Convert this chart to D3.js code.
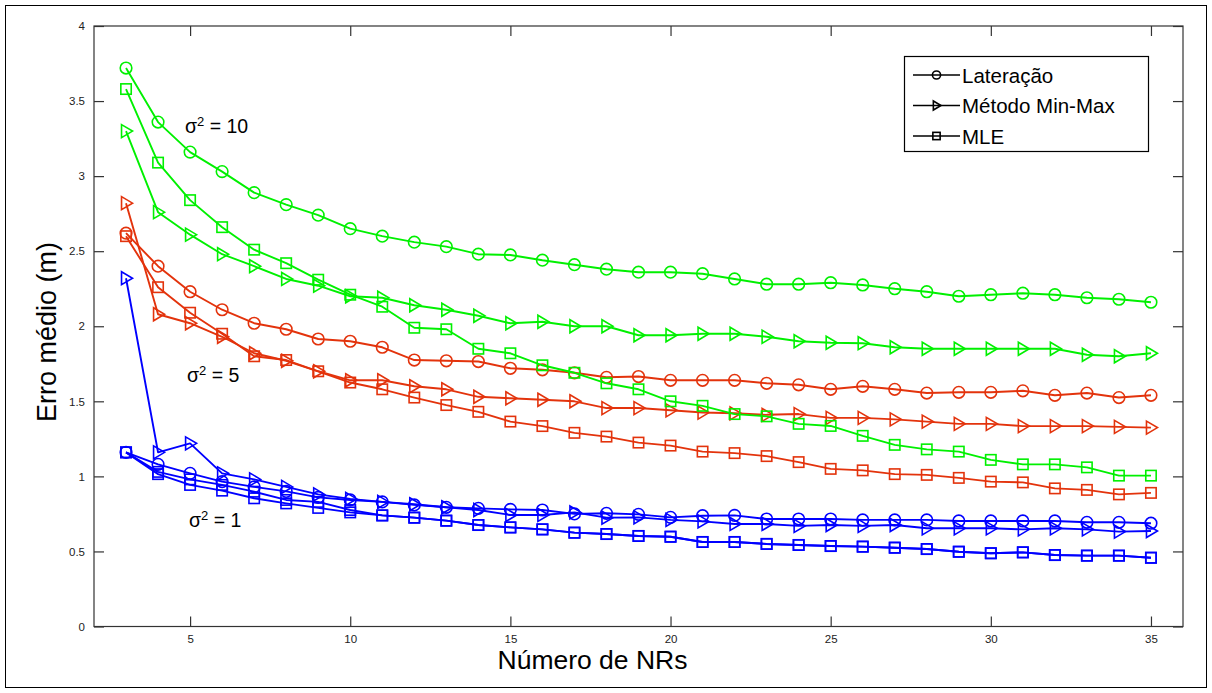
<!DOCTYPE html>
<html><head><meta charset="utf-8">
<script src="https://cdn.jsdelivr.net/npm/d3@7"></script>
<style>body{margin:0;background:#fff}svg{display:block;font-family:Arial,"Liberation Sans",sans-serif}</style>
</head><body><svg id="c" width="1212" height="693"></svg>
<script>
const nrs = d3.range(3, 36);
const xTicks = [5,10,15,20,25,30,35];
const yTicks = [0,0.5,1,1.5,2,2.5,3,3.5,4];
const yTickLabels = ["0","0.5","1","1.5","2","2.5","3","3.5","4"];
const legendLabels = ["Lateração","Método Min-Max","MLE"];

const g_lat = [3.72,3.36,3.16,3.03,2.89,2.81,2.74,2.65,2.60,2.56,2.53,2.48,2.475,2.44,2.41,2.38,2.36,2.36,2.35,2.315,2.28,2.28,2.29,2.275,2.25,2.23,2.20,2.21,2.22,2.21,2.19,2.18,2.16];
const g_mm  = [3.30,2.76,2.61,2.48,2.40,2.315,2.27,2.20,2.19,2.14,2.11,2.07,2.02,2.03,2.00,2.00,1.94,1.94,1.95,1.95,1.93,1.90,1.89,1.887,1.86,1.85,1.85,1.85,1.85,1.85,1.81,1.80,1.82];
const g_mle = [3.58,3.09,2.84,2.66,2.51,2.42,2.31,2.21,2.13,1.99,1.98,1.85,1.82,1.74,1.69,1.62,1.58,1.50,1.47,1.415,1.40,1.35,1.336,1.27,1.21,1.18,1.165,1.11,1.08,1.08,1.06,1.005,1.005];
const r_lat = [2.62,2.40,2.23,2.11,2.02,1.98,1.915,1.90,1.86,1.775,1.77,1.765,1.72,1.71,1.69,1.66,1.665,1.64,1.64,1.64,1.62,1.61,1.58,1.60,1.58,1.555,1.56,1.56,1.57,1.54,1.555,1.525,1.54];
const r_mm  = [2.82,2.08,2.02,1.93,1.82,1.77,1.70,1.64,1.64,1.60,1.58,1.53,1.52,1.51,1.50,1.455,1.455,1.44,1.425,1.42,1.41,1.415,1.39,1.39,1.38,1.365,1.35,1.35,1.335,1.335,1.335,1.33,1.325];
const r_mle = [2.60,2.26,2.09,1.95,1.80,1.775,1.70,1.625,1.58,1.525,1.475,1.43,1.365,1.335,1.29,1.265,1.225,1.205,1.165,1.155,1.135,1.095,1.05,1.04,1.015,1.01,0.99,0.965,0.96,0.92,0.91,0.88,0.89];
const b_lat = [1.16,1.08,1.02,0.965,0.93,0.90,0.86,0.843,0.83,0.81,0.794,0.787,0.78,0.776,0.75,0.754,0.747,0.727,0.738,0.74,0.716,0.716,0.716,0.71,0.71,0.71,0.703,0.703,0.703,0.703,0.694,0.694,0.688];
const b_mm  = [2.32,1.16,1.22,1.02,0.98,0.93,0.88,0.85,0.83,0.814,0.794,0.776,0.743,0.743,0.76,0.725,0.727,0.71,0.70,0.683,0.683,0.67,0.676,0.67,0.676,0.654,0.654,0.654,0.647,0.654,0.647,0.632,0.636];
const b_mle = [1.16,1.015,0.943,0.905,0.854,0.82,0.79,0.76,0.74,0.725,0.705,0.676,0.66,0.647,0.625,0.616,0.603,0.598,0.563,0.563,0.55,0.543,0.536,0.532,0.525,0.516,0.498,0.488,0.494,0.476,0.472,0.472,0.458];
const b_mle2 = [1.16,1.03,0.98,0.943,0.898,0.843,0.83,0.776,0.74,0.725,0.705,0.676,0.66,0.647,0.625,0.616,0.603,0.598,0.563,0.563,0.55,0.543,0.536,0.532,0.525,0.516,0.498,0.488,0.494,0.476,0.472,0.472,0.458];

const GREEN = "#00f000", RED = "#e3330c", BLUE = "#0000ff";
const series = [
  {v:b_mle, c:BLUE, m:"s"},{v:b_mle2, c:BLUE, m:"s"},{v:b_lat, c:BLUE, m:"o"},{v:b_mm, c:BLUE, m:">"},
  {v:r_mle, c:RED, m:"s"},{v:r_lat, c:RED, m:"o"},{v:r_mm, c:RED, m:">"},
  {v:g_mle, c:GREEN, m:"s"},{v:g_lat, c:GREEN, m:"o"},{v:g_mm, c:GREEN, m:">"}
];

const svg = d3.select("#c");
svg.append("rect").attr("x",5.5).attr("y",5.5).attr("width",1201).attr("height",682)
  .attr("fill","none").attr("stroke","#000").attr("stroke-width",1);

const L=94, R=1183, T=26, B=626.5;
const x = d3.scaleLinear().domain([2,36]).range([L,R]);
const y = d3.scaleLinear().domain([0,4]).range([B,T]);

svg.append("rect").attr("x",L).attr("y",T).attr("width",R-L).attr("height",B-T)
  .attr("fill","none").attr("stroke","#333").attr("stroke-width",1.2);

svg.append("g").attr("transform",`translate(0,${B})`)
  .call(d3.axisBottom(x).tickValues(xTicks).tickSize(-10).tickPadding(8).tickFormat(d3.format("d")));
svg.append("g").attr("transform",`translate(${L},0)`)
  .call(d3.axisLeft(y).tickValues(yTicks).tickSize(-10).tickPadding(9).tickFormat((d,i)=>yTickLabels[i]));
svg.append("g").attr("transform",`translate(0,${T})`)
  .call(d3.axisTop(x).tickValues(xTicks).tickSize(-10).tickFormat(""));
svg.append("g").attr("transform",`translate(${R},0)`)
  .call(d3.axisRight(y).tickValues(yTicks).tickSize(-10).tickFormat(""));
svg.selectAll(".domain").remove();
svg.selectAll(".tick line").attr("stroke","#333").attr("stroke-width",1.2);
svg.selectAll(".tick text").attr("font-size",11.5).attr("fill","#222").attr("font-family","Arial, 'Liberation Sans', sans-serif");

const line = d3.line().x((d,i)=>x(nrs[i])).y(d=>y(d));

function marker(g, type, cx, cy, color, s){
  if(type==="o"){
    g.append("circle").attr("cx",cx).attr("cy",cy).attr("r",5.8*s)
      .attr("fill","none").attr("stroke",color).attr("stroke-width",1.6);
  } else if(type==="s"){
    const h=5.2*s;
    g.append("rect").attr("x",cx-h).attr("y",cy-h).attr("width",2*h).attr("height",2*h)
      .attr("fill","none").attr("stroke",color).attr("stroke-width",1.6);
  } else {
    const p=[[cx-4.5*s,cy-6.5*s],[cx+6.5*s,cy],[cx-4.5*s,cy+6.5*s]];
    g.append("path").attr("d","M"+p.map(q=>q.join(",")).join("L")+"Z")
      .attr("fill","none").attr("stroke",color).attr("stroke-width",1.6);
  }
}

const plot = svg.append("g");
series.forEach(sr=>{
  const g = plot.append("g");
  g.append("path").attr("d",line(sr.v)).attr("fill","none").attr("stroke",sr.c)
    .attr("stroke-width",1.9).attr("stroke-linejoin","round");
  sr.v.forEach((v,i)=>marker(g, sr.m, x(nrs[i]), y(v), sr.c, 1));
});

const sig = [{t:"10",x:185,y:133},{t:"5",x:187,y:382},{t:"1",x:189,y:527}];
sig.forEach(s=>{
  const t = svg.append("text").attr("x",s.x).attr("y",s.y).attr("font-size",19.5).attr("fill","#000");
  t.append("tspan").text("σ");
  t.append("tspan").attr("font-size",13).attr("dy",-7).text("2");
  t.append("tspan").attr("dy",7).text(" = "+s.t);
});

const lg = svg.append("g");
lg.append("rect").attr("x",904.5).attr("y",56.5).attr("width",244).attr("height",95)
  .attr("fill","#fff").attr("stroke","#000").attr("stroke-width",1.2);
const lm = ["o",">","s"];
legendLabels.forEach((lab,i)=>{
  const yy = 75 + i*30.5;
  lg.append("line").attr("x1",913).attr("x2",960).attr("y1",yy).attr("y2",yy).attr("stroke","#000").attr("stroke-width",1.6);
  marker(lg, lm[i], 936.5, yy, "#000", 0.7);
  lg.append("text").attr("x",962).attr("y",yy+7.5).attr("font-size",20.5).attr("fill","#000").text(lab);
});

svg.append("text").attr("x",592.5).attr("y",669).attr("text-anchor","middle")
  .attr("font-size",26.5).attr("fill","#000").text("Número de NRs");
svg.append("text").attr("transform","translate(56,332) rotate(-90)").attr("text-anchor","middle")
  .attr("font-size",27).attr("fill","#000").text("Erro médio (m)");
</script></body></html>
